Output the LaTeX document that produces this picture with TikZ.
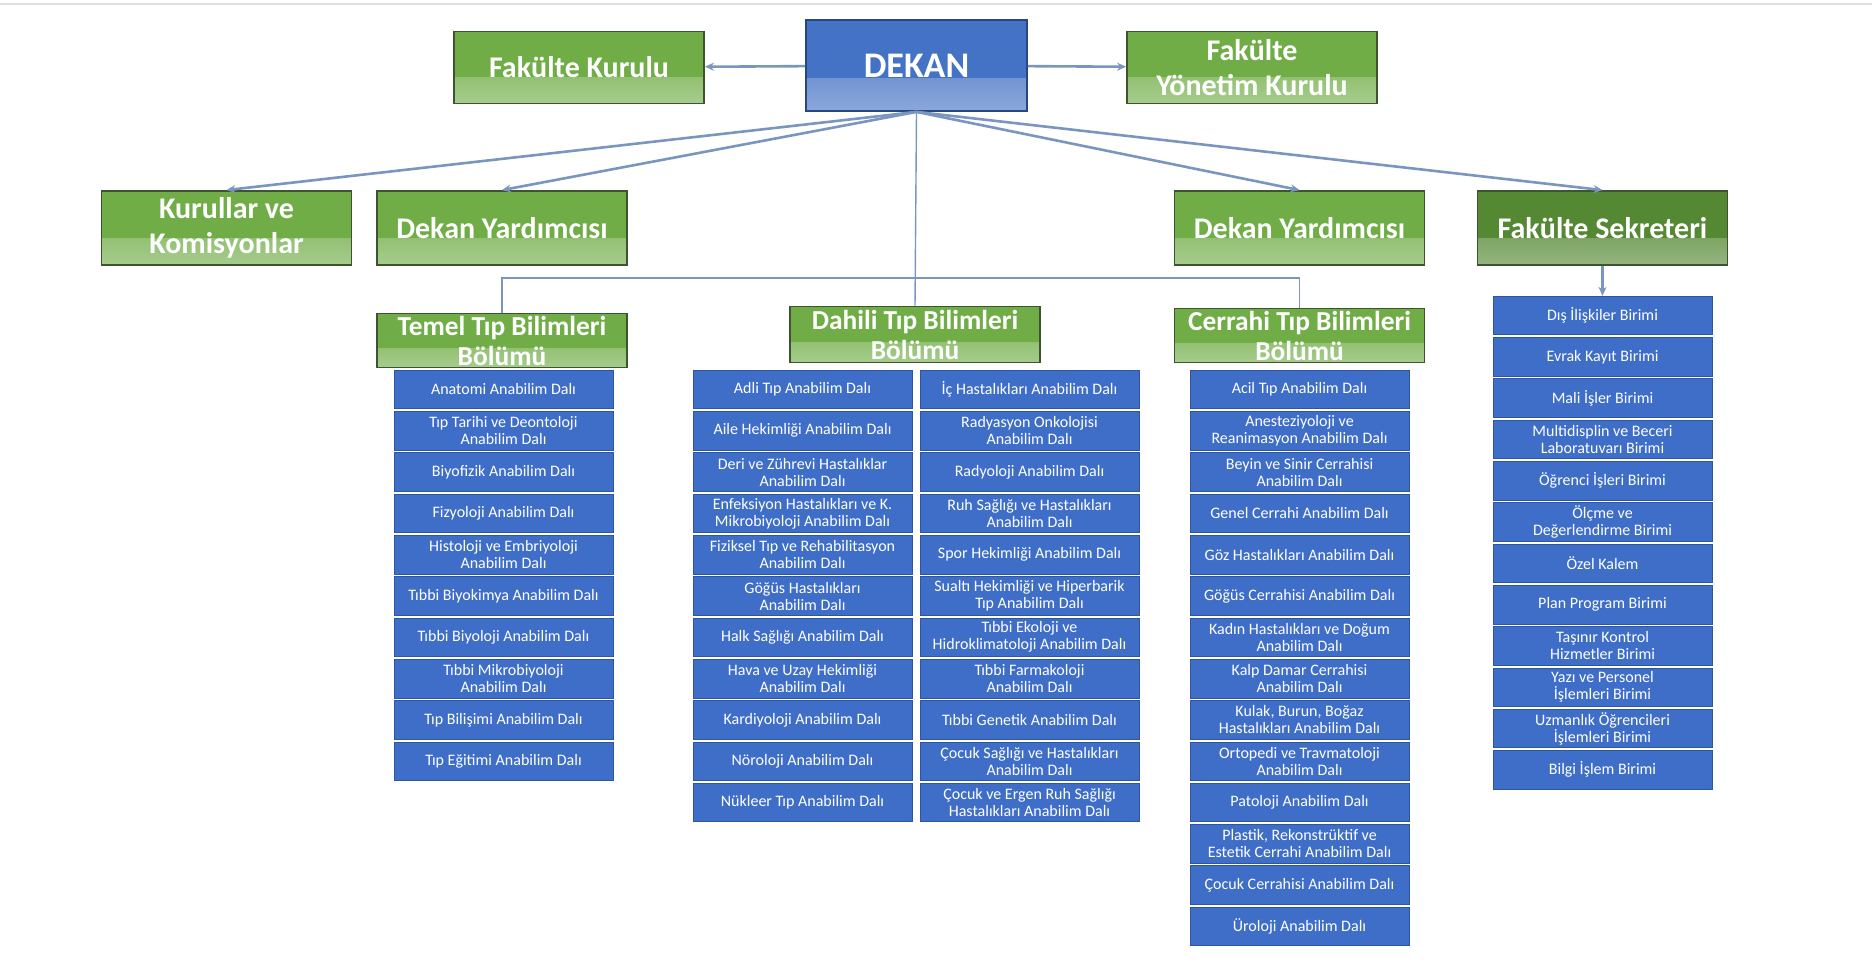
\documentclass[tikz,border=0pt]{standalone}
\usepackage{fontspec}
\setmainfont{Carlito}
\usepackage{tikz}
\usetikzlibrary{
    positioning,
    arrows.meta,
    calc
}
\definecolor{orgGreen}{RGB}{112, 173, 71}
\definecolor{orgGreenDark}{RGB}{84, 136, 50}
\definecolor{orgGreenEdge}{RGB}{62, 84, 48}
\definecolor{orgBlue}{RGB}{68, 114, 196}
\definecolor{orgBlueEdge}{RGB}{40, 70, 130}
\definecolor{unitBlue}{RGB}{62, 110, 200}
\definecolor{unitEdge}{RGB}{45, 85, 160}
\definecolor{linkBlue}{RGB}{122, 150, 192}

\tikzset{
    office/.style={rectangle, draw=orgGreenEdge, line width=0.9pt, fill=#1,
        text=white, align=center, inner sep=0pt,
        path picture={\shade[top color=#1, bottom color=#1!62!white]
            ($(path picture bounding box.south west)!0.36!(path picture bounding box.north west)$)
            rectangle (path picture bounding box.south east);}},
    board/.style={office=orgGreen, minimum width=125pt, minimum height=36pt,
        font=\bfseries\fontsize{15}{17.5}\selectfont},
    bolum/.style={office=orgGreen, minimum width=125pt, minimum height=27pt,
        font=\bfseries\fontsize{13.7}{15}\selectfont},
    unit/.style={rectangle, fill=unitBlue, draw=unitEdge, line width=0.4pt,
        text=white, align=center, inner sep=0pt,
        minimum width=109.5pt, minimum height=19.3pt,
        font=\fontsize{8}{8.5}\selectfont},
    link/.style={draw=linkBlue, line width=1.3pt, -{Stealth[length=4.5pt, width=4pt]}},
    bus/.style={draw=linkBlue, line width=0.7pt}
}

\begin{document}
\begin{tikzpicture}[x=0.5pt, y=-0.5pt, >=stealth]
        \useasboundingbox (0, 0) rectangle (1872, 973);
        \draw[gray!25, line width=1pt] (0, 4) -- (1872, 4);

        % Top level
        \node[office=orgBlue, draw=orgBlueEdge, minimum width=110.5pt, minimum height=45.5pt,
              font=\bfseries\fontsize{18}{20}\selectfont] (dekan) at (916.5, 65.5) {DEKAN};
        \node[board] (fkurul) at (579, 67.5) {Fakülte Kurulu};
        \node[board] (fyk) at (1252, 67.5) {Fakülte\\Yönetim Kurulu};

        % Second level
        \node[board, minimum height=37pt] (kurullar) at (226.5, 228) {Kurullar ve\\Komisyonlar};
        \node[board, minimum height=37pt] (yardL) at (502, 228) {Dekan Yardımcısı};
        \node[board, minimum height=37pt] (yardR) at (1299.5, 228) {Dekan Yardımcısı};
        \node[board, minimum height=37pt, office=orgGreenDark] (sekreter) at (1602.5, 228) {Fakülte Sekreteri};

        % Departments
        \node[bolum] (temel) at (502, 340.5) {Temel Tıp Bilimleri\\Bölümü};
        \node[bolum, minimum height=28pt] (dahili) at (915, 334.5) {Dahili Tıp Bilimleri\\Bölümü};
        \node[bolum] (cerrahi) at (1299.5, 335.5) {Cerrahi Tıp Bilimleri\\Bölümü};

        % Units
        \foreach [count=\i] \txt in {{Anatomi Anabilim Dalı}, {Tıp Tarihi ve Deontoloji\\Anabilim Dalı},
            {Biyofizik Anabilim Dalı}, {Fizyoloji Anabilim Dalı}, {Histoloji ve Embriyoloji\\Anabilim Dalı},
            {Tıbbi Biyokimya Anabilim Dalı}, {Tıbbi Biyoloji Anabilim Dalı}, {Tıbbi Mikrobiyoloji\\Anabilim Dalı},
            {Tıp Bilişimi Anabilim Dalı}, {Tıp Eğitimi Anabilim Dalı}}
            \node[unit] (tem\i) at (503.5, {389.5+(\i-1)*41.3}) {\txt};

        \foreach [count=\i] \txt in {{Adli Tıp Anabilim Dalı}, {Aile Hekimliği Anabilim Dalı},
            {Deri ve Zührevi Hastalıklar\\Anabilim Dalı}, {Enfeksiyon Hastalıkları ve K.\\Mikrobiyoloji Anabilim Dalı},
            {Fiziksel Tıp ve Rehabilitasyon\\Anabilim Dalı}, {Göğüs Hastalıkları\\Anabilim Dalı},
            {Halk Sağlığı Anabilim Dalı}, {Hava ve Uzay Hekimliği\\Anabilim Dalı},
            {Kardiyoloji Anabilim Dalı}, {Nöroloji Anabilim Dalı}, {Nükleer Tıp Anabilim Dalı}}
            \node[unit] (dahA\i) at (802.5, {389.5+(\i-1)*41.3}) {\txt};

        \foreach [count=\i] \txt in {{İç Hastalıkları Anabilim Dalı}, {Radyasyon Onkolojisi\\Anabilim Dalı},
            {Radyoloji Anabilim Dalı}, {Ruh Sağlığı ve Hastalıkları\\Anabilim Dalı},
            {Spor Hekimliği Anabilim Dalı}, {Sualtı Hekimliği ve Hiperbarik\\Tıp Anabilim Dalı},
            {Tıbbi Ekoloji ve\\Hidroklimatoloji Anabilim Dalı}, {Tıbbi Farmakoloji\\Anabilim Dalı},
            {Tıbbi Genetik Anabilim Dalı}, {Çocuk Sağlığı ve Hastalıkları\\Anabilim Dalı},
            {Çocuk ve Ergen Ruh Sağlığı\\Hastalıkları Anabilim Dalı}}
            \node[unit] (dahB\i) at (1029.5, {389.5+(\i-1)*41.3}) {\txt};

        \foreach [count=\i] \txt in {{Acil Tıp Anabilim Dalı}, {Anesteziyoloji ve\\Reanimasyon Anabilim Dalı},
            {Beyin ve Sinir Cerrahisi\\Anabilim Dalı}, {Genel Cerrahi Anabilim Dalı},
            {Göz Hastalıkları Anabilim Dalı}, {Göğüs Cerrahisi Anabilim Dalı},
            {Kadın Hastalıkları ve Doğum\\Anabilim Dalı}, {Kalp Damar Cerrahisi\\Anabilim Dalı},
            {Kulak, Burun, Boğaz\\Hastalıkları Anabilim Dalı}, {Ortopedi ve Travmatoloji\\Anabilim Dalı},
            {Patoloji Anabilim Dalı}, {Plastik, Rekonstrüktif ve\\Estetik Cerrahi Anabilim Dalı},
            {Çocuk Cerrahisi Anabilim Dalı}, {Üroloji Anabilim Dalı}}
            \node[unit] (cer\i) at (1299.5, {389.5+(\i-1)*41.3}) {\txt};

        \foreach [count=\i] \txt in {{Dış İlişkiler Birimi}, {Evrak Kayıt Birimi}, {Mali İşler Birimi},
            {Multidisplin ve Beceri\\Laboratuvarı Birimi}, {Öğrenci İşleri Birimi},
            {Ölçme ve\\Değerlendirme Birimi}, {Özel Kalem}, {Plan Program Birimi},
            {Taşınır Kontrol\\Hizmetler Birimi}, {Yazı ve Personel\\İşlemleri Birimi},
            {Uzmanlık Öğrencileri\\İşlemleri Birimi}, {Bilgi İşlem Birimi}}
            \node[unit] (sek\i) at (1602.5, {315.5+(\i-1)*41.3}) {\txt};

        % Connectors
        \coordinate (bus) at (916.5, 278);
        \draw[link] (dekan) -- (fkurul);
        \draw[link] (dekan) -- (fyk);
        \draw[link] (dekan.south) -- (kurullar.north);
        \draw[link] (dekan.south) -- (yardL.north);
        \draw[link] (dekan.south) -- (yardR.north);
        \draw[link] (dekan.south) -- (sekreter.north);
        \draw[link] (sekreter.south) -- (sek1.north);

        \draw[bus] (dekan.south) -- (dahili.north);
        \draw[bus] (temel.north) |- (bus) -| (cerrahi.north);
    \end{tikzpicture}
\end{document}
